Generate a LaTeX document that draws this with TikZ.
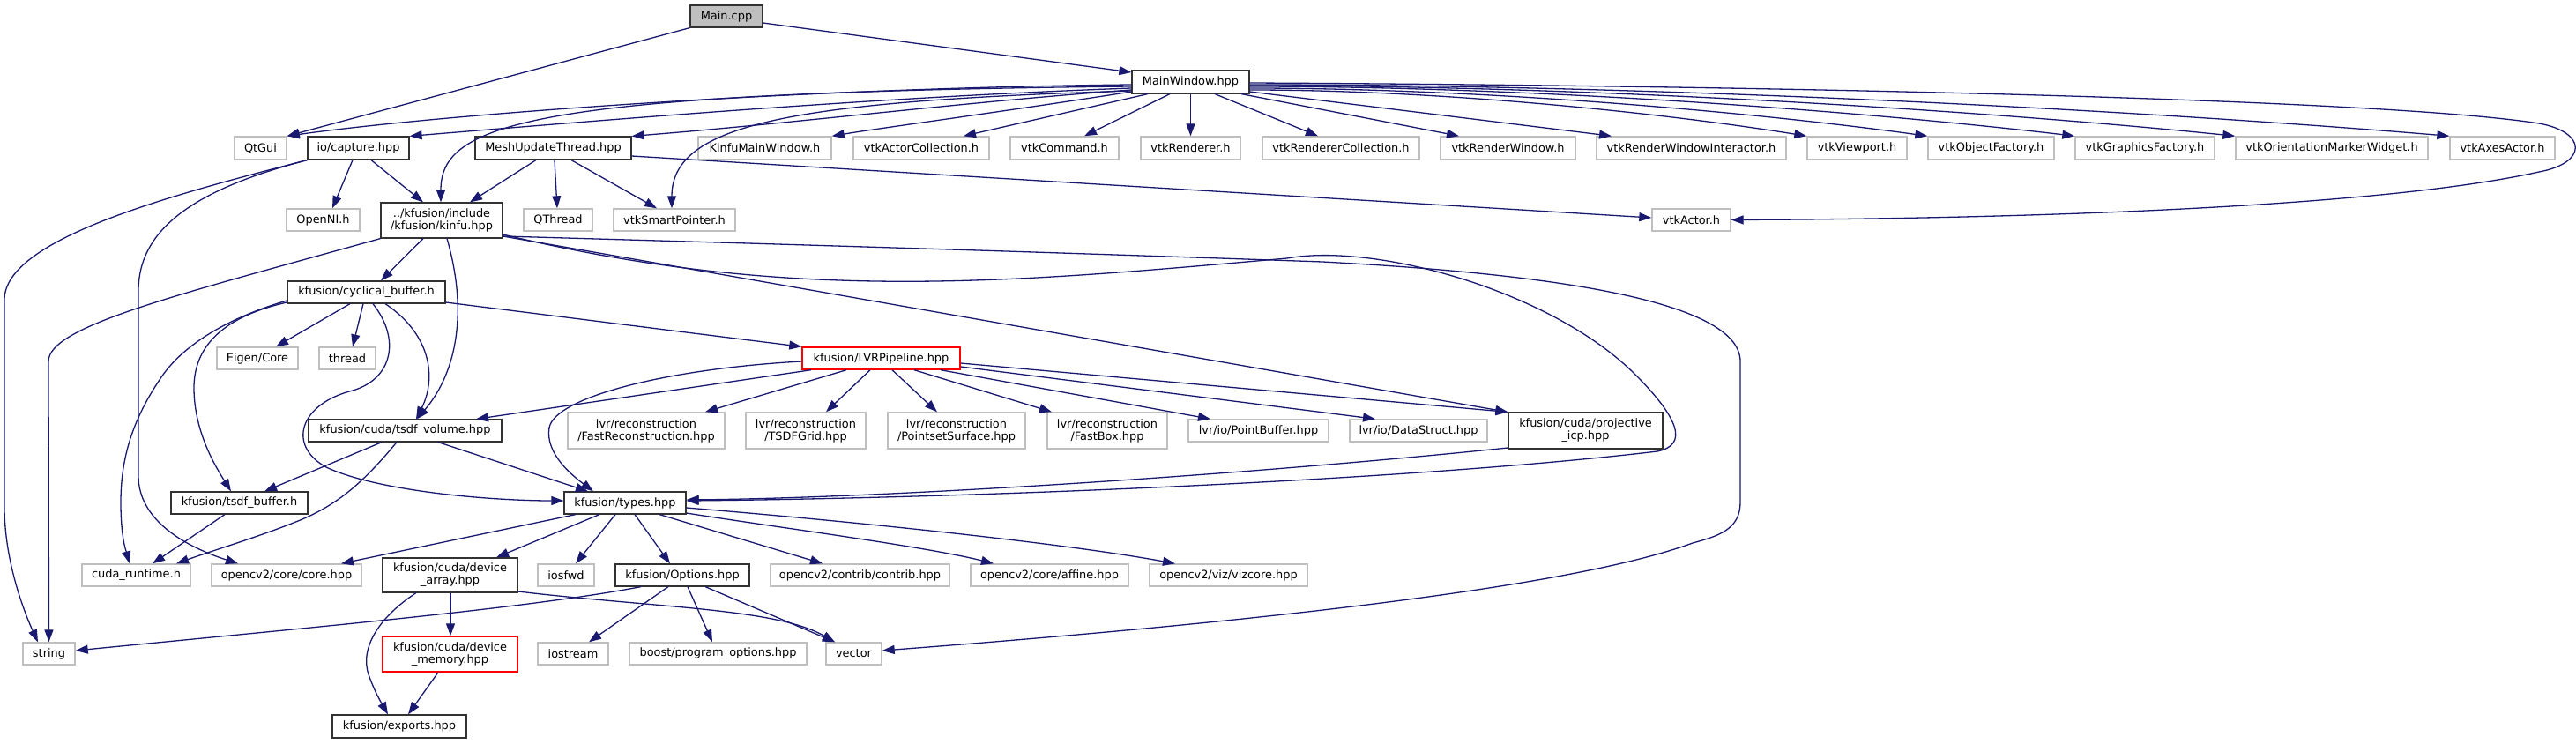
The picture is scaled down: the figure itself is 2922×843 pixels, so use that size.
\documentclass[tikz,border=0pt]{standalone}
\usepackage{fontspec}
\setmainfont{DejaVu Sans}
\usetikzlibrary{arrows.meta}
\definecolor{edgec}{RGB}{25,25,112}
\definecolor{grayb}{RGB}{191,191,191}
\definecolor{rootf}{RGB}{191,191,191}
\definecolor{darkb}{RGB}{50,50,50}
\newcommand{\mk}[7]{\node[#1, minimum width=#5pt, minimum height=#6pt] (#2) at (#3,#4) {#7};}
\begin{document}
\begin{tikzpicture}[x=1pt,y=-1pt]
\tikzset{
 box/.style={line width=1.4pt, inner sep=0pt, align=center, fill=white, text=black, font=\fontsize{12.9}{14}\selectfont},
 nb/.style={box, draw=darkb, line width=1.2pt},
 gb/.style={box, draw=grayb},
 rb/.style={box, draw=red},
 rootb/.style={box, draw=darkb, line width=1.2pt, fill=rootf},
 dep/.style={draw=edgec, line width=1.3pt, -{Triangle[length=14pt,width=10pt]}},
}
\useasboundingbox[fill=white] (0,0) rectangle (2922,843);
% nodes
\mk{rootb}{main}{824}{18.5}{82}{25}{Main.cpp}
\mk{nb}{mw}{1350.5}{93}{133}{26}{MainWindow.hpp}
\mk{gb}{qtgui}{295.5}{168}{59}{26}{QtGui}
\mk{nb}{cap}{406.5}{168}{115}{26}{io/capture.hpp}
\mk{nb}{mesh}{627.5}{168}{177}{26}{MeshUpdateThread.hpp}
\mk{gb}{kmw}{867.5}{168}{151}{26}{KinfuMainWindow.h}
\mk{gb}{vac}{1045}{168}{154}{26}{vtkActorCollection.h}
\mk{gb}{vcmd}{1207.5}{168}{123}{26}{vtkCommand.h}
\mk{gb}{vren}{1350.5}{168}{113}{26}{vtkRenderer.h}
\mk{gb}{vrc}{1521}{168}{178}{26}{vtkRendererCollection.h}
\mk{gb}{vrw}{1710.5}{168}{153}{26}{vtkRenderWindow.h}
\mk{gb}{vrwi}{1918.5}{168}{215}{26}{vtkRenderWindowInteractor.h}
\mk{gb}{vvp}{2106.5}{168}{113}{26}{vtkViewport.h}
\mk{gb}{vof}{2258.5}{168}{143}{26}{vtkObjectFactory.h}
\mk{gb}{vgf}{2433}{168}{158}{26}{vtkGraphicsFactory.h}
\mk{gb}{vomw}{2645}{168}{218}{26}{vtkOrientationMarkerWidget.h}
\mk{gb}{vaa}{2838.5}{168}{119}{26}{vtkAxesActor.h}
\mk{gb}{openni}{366.5}{249.5}{83}{25}{OpenNI.h}
\mk{nb}{kinfu}{501}{250}{138}{40}{../kfusion/include\\/kfusion/kinfu.hpp}
\mk{gb}{qthread}{633}{249.5}{78}{25}{QThread}
\mk{gb}{vsp}{765}{249.5}{138}{25}{vtkSmartPointer.h}
\mk{gb}{vactor}{1918.5}{249.5}{89}{25}{vtkActor.h}
\mk{nb}{cyc}{415.5}{331.5}{179}{25}{kfusion/cyclical\_buffer.h}
\mk{gb}{eigen}{292}{406.5}{92}{25}{Eigen/Core}
\mk{gb}{thread}{394}{406.5}{64}{25}{thread}
\mk{rb}{lvr}{999.5}{406.5}{179}{25}{kfusion/LVRPipeline.hpp}
\mk{nb}{tsdfv}{459.5}{488.5}{219}{25}{kfusion/cuda/tsdf\_volume.hpp}
\mk{gb}{fastrec}{733}{488.5}{178}{41}{lvr/reconstruction\\/FastReconstruction.hpp}
\mk{gb}{tsdfgrid}{914}{488.5}{136}{41}{lvr/reconstruction\\/TSDFGrid.hpp}
\mk{gb}{pss}{1085}{488.5}{156}{41}{lvr/reconstruction\\/PointsetSurface.hpp}
\mk{gb}{fastbox}{1256}{488.5}{136}{41}{lvr/reconstruction\\/FastBox.hpp}
\mk{gb}{pbuf}{1427.5}{488.5}{159}{25}{lvr/io/PointBuffer.hpp}
\mk{gb}{dstruct}{1609}{488.5}{156}{25}{lvr/io/DataStruct.hpp}
\mk{nb}{picp}{1798.5}{488.5}{175}{41}{kfusion/cuda/projective\\\_icp.hpp}
\mk{nb}{tsdfb}{271.5}{570.5}{155}{25}{kfusion/tsdf\_buffer.h}
\mk{nb}{types}{709}{570.5}{138}{25}{kfusion/types.hpp}
\mk{gb}{cudart}{154.5}{652.5}{123}{25}{cuda\_runtime.h}
\mk{gb}{cvcore}{325}{652.5}{170}{25}{opencv2/core/core.hpp}
\mk{nb}{darr}{510.5}{652.5}{153}{39}{kfusion/cuda/device\\\_array.hpp}
\mk{gb}{iosfwd}{642}{652.5}{64}{25}{iosfwd}
\mk{nb}{opts}{774}{652.5}{152}{25}{kfusion/Options.hpp}
\mk{gb}{contrib}{975.5}{652.5}{203}{25}{opencv2/contrib/contrib.hpp}
\mk{gb}{affine}{1190.5}{652.5}{179}{25}{opencv2/core/affine.hpp}
\mk{gb}{viz}{1393.5}{652.5}{179}{25}{opencv2/viz/vizcore.hpp}
\mk{gb}{string}{55.5}{741.5}{59}{25}{string}
\mk{rb}{dmem}{510.5}{742}{153}{40}{kfusion/cuda/device\\\_memory.hpp}
\mk{gb}{iostream}{650}{741.5}{80}{25}{iostream}
\mk{gb}{boost}{814.5}{741.5}{201}{25}{boost/program\_options.hpp}
\mk{gb}{vector}{968.5}{741.5}{63}{25}{vector}
\mk{nb}{exports}{453}{824}{152}{26}{kfusion/exports.hpp}
% Main.cpp
\draw[dep] (main.south west) -- (qtgui.north east);
\draw[dep] (main.east |- 0,26) -- (mw.west |- 0,82);
% MainWindow.hpp
\draw[dep] (mw.west |- 0,96) .. controls (900,100) and (500,130) .. (qtgui.north east);
\draw[dep] (mw.west |- 0,100) .. controls (1000,110) and (700,135) .. (cap.north east);
\draw[dep] (mw.west |- 0,98) .. controls (600,105) and (500,140) .. (kinfu.north -| 500,0);
\draw[dep] (mw.west |- 0,102) .. controls (1100,115) and (900,140) .. (mesh.north east);
\draw[dep] (mw.west |- 0,103) .. controls (900,115) and (762,140) .. (vsp.north -| 762,0);
\draw[dep] (mw.west |- 0,104) .. controls (1150,125) and (1000,145) .. (kmw.north east);
\draw[dep] (mw.south -| 1302,0) -- (vac.north -| 1093,0);
\draw[dep] (mw.south -| 1327,0) -- (vcmd.north -| 1230,0);
\draw[dep] (mw.south) -- (vren.north);
\draw[dep] (mw.south -| 1378,0) -- (vrc.north -| 1495,0);
\draw[dep] (mw.south -| 1408,0) -- (vrw.north -| 1655,0);
\draw[dep] (mw.east |- 0,104) -- (vrwi.north -| 1828,0);
\draw[dep] (mw.east |- 0,102) .. controls (1639,102) and (1892,129) .. (vvp.north west);
\draw[dep] (mw.east |- 0,100) .. controls (1687,100) and (1995,128) .. (vof.north west);
\draw[dep] (mw.east |- 0,98) .. controls (1745,98) and (2121,127) .. (vgf.north west);
\draw[dep] (mw.east |- 0,97) .. controls (1809,97) and (2257,126) .. (vomw.north west);
\draw[dep] (mw.east |- 0,96) .. controls (1894,96) and (2439,126) .. (vaa.north west);
\draw[dep] (mw.east |- 0,94) .. controls (2000,97) and (2700,112) .. (2880,140)
  .. controls (2935,150) and (2935,185) .. (2880,195)
  .. controls (2700,235) and (2300,248) .. (vactor.east);
% io/capture.hpp
\draw[dep] (cap.south -| 400,0) -- (openni.north -| 377,0);
\draw[dep] (cap.south -| 421,0) -- (kinfu.north -| 480,0);
\draw[dep] (cap.south west) .. controls (200,220) and (5,270) .. (5,340) -- (5,575)
  .. controls (5,640) and (30,700) .. (string.north -| 43,0);
\draw[dep] (cap.south west) .. controls (220,215) and (157,260) .. (157,330) -- (157,540)
  .. controls (157,590) and (210,620) .. (cvcore.north -| 270,0);
% MeshUpdateThread.hpp
\draw[dep] (mesh.south -| 608,0) -- (kinfu.north -| 533,0);
\draw[dep] (mesh.south -| 629,0) -- (qthread.north -| 632,0);
\draw[dep] (mesh.south -| 648,0) -- (vsp.north -| 745,0);
\draw[dep] (mesh.east |- 0,177) -- (vactor.west |- 0,247);
% kinfu.hpp
\draw[dep] (kinfu.south -| 480,0) -- (cyc.north -| 432,0);
\draw[dep] (kinfu.south west) .. controls (200,335) and (55,370) .. (55,410) -- (string.north);
\draw[dep] (kinfu.south -| 507,0) .. controls (530,350) and (520,420) .. (tsdfv.north -| 473,0);
\draw[dep] (kinfu.east |- 0,266) .. controls (900,345) and (1150,320) .. (1460,293)
  .. controls (1560,275) and (1760,330) .. (1855,425)
  .. controls (1905,475) and (1915,505) .. (1880,512)
  .. controls (1600,545) and (1100,565) .. (types.east |- 0,568);
\draw[dep] (kinfu.east |- 0,268) -- (picp.north west);
\draw[dep] (kinfu.east |- 0,268) .. controls (1000,280) and (1300,290) .. (1500,297)
  .. controls (1750,310) and (1974,340) .. (1974,410) -- (1974,570)
  .. controls (1974,600) and (1950,608) .. (1920,616)
  .. controls (1800,660) and (1500,700) .. (vector.east |- 0,738);
% cyclical_buffer.h
\draw[dep] (cyc.south -| 397,0) -- (eigen.north -| 313,0);
\draw[dep] (cyc.south -| 412,0) -- (thread.north -| 400,0);
\draw[dep] (cyc.west |- 0,341) .. controls (260,360) and (210,390) .. (185,425)
  .. controls (150,475) and (137,520) .. (137,570)
  .. controls (137,610) and (143,625) .. (cudart.north -| 147,0);
\draw[dep] (cyc.west |- 0,343) .. controls (250,360) and (220,395) .. (220,440)
  .. controls (220,490) and (245,530) .. (tsdfb.north -| 262,0);
\draw[dep] (cyc.south -| 437,0) .. controls (490,380) and (495,430) .. (tsdfv.north -| 472,0);
\draw[dep] (cyc.south -| 423,0) .. controls (455,385) and (445,430) .. (400,443)
  .. controls (340,458) and (325,505) .. (370,530)
  .. controls (430,558) and (560,568) .. (types.west |- 0,568);
\draw[dep] (cyc.east |- 0,343) -- (lvr.north west);
% LVRPipeline.hpp
\draw[dep] (lvr.south -| 920,0) -- (tsdfv.north -| 540,0);
\draw[dep] (lvr.west |- 0,410) .. controls (760,418) and (630,450) .. (623,485)
  .. controls (618,515) and (650,540) .. (types.north -| 673,0);
\draw[dep] (lvr.south -| 960,0) -- (fastrec.north -| 800,0);
\draw[dep] (lvr.south -| 987,0) -- (tsdfgrid.north -| 937,0);
\draw[dep] (lvr.south -| 1012,0) -- (pss.north -| 1063,0);
\draw[dep] (lvr.south -| 1037,0) -- (fastbox.north -| 1193,0);
\draw[dep] (lvr.south -| 1067,0) -- (pbuf.north -| 1373,0);
\draw[dep] (lvr.east |- 0,416) -- (dstruct.north -| 1560,0);
\draw[dep] (lvr.east |- 0,412) -- (picp.north west);
% tsdf_volume.hpp
\draw[dep] (tsdfv.south -| 433,0) -- (tsdfb.north -| 300,0);
\draw[dep] (tsdfv.south -| 450,0) .. controls (410,550) and (380,575) .. (333,593)
  .. controls (290,610) and (240,625) .. (cudart.north -| 200,0);
\draw[dep] (tsdfv.south -| 497,0) -- (types.north -| 667,0);
% tsdf_buffer.h
\draw[dep] (tsdfb.south -| 255,0) -- (cudart.north -| 173,0);
% projective_icp.hpp
\draw[dep] (picp.west |- 0,508) .. controls (1400,540) and (1000,565) .. (types.east |- 0,567);
% types.hpp
\draw[dep] (types.south -| 653,0) -- (cvcore.north -| 387,0);
\draw[dep] (types.south -| 680,0) -- (darr.north -| 563,0);
\draw[dep] (types.south -| 698,0) -- (iosfwd.north -| 653,0);
\draw[dep] (types.south -| 720,0) -- (opts.north -| 760,0);
\draw[dep] (types.south -| 748,0) -- (contrib.north -| 933,0);
\draw[dep] (types.east |- 0,582) .. controls (880,598) and (1050,620) .. (affine.north -| 1127,0);
\draw[dep] (types.east |- 0,576) .. controls (950,590) and (1200,615) .. (viz.north -| 1333,0);
% device_array.hpp
\draw[dep] (darr.south -| 511,0) -- (dmem.north -| 511,0);
\draw[dep] (darr.south -| 472,0) .. controls (430,700) and (408,735) .. (418,765)
  .. controls (425,785) and (433,798) .. (exports.north -| 440,0);
\draw[dep] (darr.east |- 0,671) .. controls (750,690) and (880,690) .. (vector.north -| 947,0);
% Options.hpp
\draw[dep] (opts.south -| 727,0) .. controls (600,690) and (350,712) .. (string.east |- 0,738);
\draw[dep] (opts.south -| 758,0) -- (iostream.north -| 668,0);
\draw[dep] (opts.south -| 780,0) -- (boost.north -| 808,0);
\draw[dep] (opts.south -| 800,0) -- (vector.north -| 947,0);
% device_memory.hpp
\draw[dep] (dmem.south -| 497,0) -- (exports.north -| 463,0);
\end{tikzpicture}
\end{document}
